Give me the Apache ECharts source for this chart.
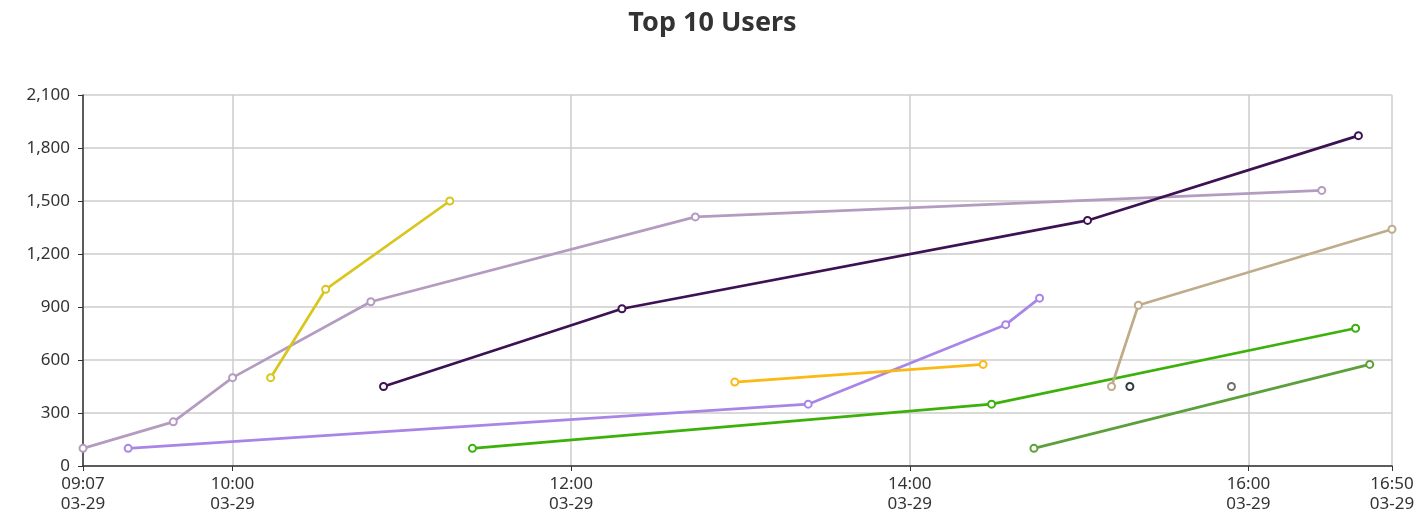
<!DOCTYPE html>
<html>
<head>
<meta charset="utf-8">
<script src="https://cdn.jsdelivr.net/npm/echarts@6/dist/echarts.min.js"></script>
<style>
html,body{margin:0;padding:0;background:#fff;}
#chart{width:1425px;height:515px;}
</style>
</head>
<body>
<div id="chart"></div>
<script>
const day = '2024-03-29';
const axisStart = '09:07:00';
const axisEnd = '16:50:54';
const yTicks = [0, 300, 600, 900, 1200, 1500, 1800, 2100];

const user1Times = ['09:07:00', '09:39:00', '10:00:00', '10:49:00', '12:44:00', '16:26:00'];
const user1Values = [100, 250, 500, 930, 1410, 1560];
const user2Times = ['10:13:30', '10:33:00', '11:17:00'];
const user2Values = [500, 1000, 1500];
const user3Times = ['10:53:30', '12:18:00', '15:03:00', '16:39:00'];
const user3Values = [450, 890, 1390, 1870];
const user4Times = ['09:23:00', '13:24:00', '14:34:00', '14:46:00'];
const user4Values = [100, 350, 800, 950];
const user5Times = ['12:58:00', '14:26:00'];
const user5Values = [475, 575];
const user6Times = ['11:25:00', '14:29:00', '16:38:00'];
const user6Values = [100, 350, 780];
const user7Times = ['15:11:30', '15:21:00', '16:50:54'];
const user7Values = [450, 910, 1340];
const user8Times = ['15:18:00'];
const user8Values = [450];
const user9Times = ['15:54:00'];
const user9Values = [450];
const user10Times = ['14:44:00', '16:43:00'];
const user10Values = [100, 575];

const seriesColors = ['#b49bc0', '#d9c61c', '#3d1253', '#a985e8', '#fcb813', '#3cb10c', '#bfac8b', '#2d3a40', '#727169', '#5da03b'];

const users = [
  [user1Times, user1Values], [user2Times, user2Values], [user3Times, user3Values],
  [user4Times, user4Values], [user5Times, user5Values], [user6Times, user6Values],
  [user7Times, user7Values], [user8Times, user8Values], [user9Times, user9Values],
  [user10Times, user10Values]
];

function ts(hms) { return new Date(day + 'T' + hms).getTime(); }
function pad(n) { return (n < 10 ? '0' : '') + n; }

const series = users.map(function (u, i) {
  return {
    name: 'User ' + (i + 1),
    type: 'line',
    data: u[0].map(function (t, j) { return [ts(t), u[1][j]]; }),
    symbol: 'emptyCircle',
    symbolSize: 7,
    lineStyle: { width: 2.7, color: seriesColors[i] },
    itemStyle: { color: seriesColors[i], borderWidth: 1.5 },
    emphasis: { disabled: true }
  };
});

const chart = echarts.init(document.getElementById('chart'));
chart.setOption({
  animation: false,
  color: seriesColors,
  title: {
    text: 'Top 10 Users',
    left: 'center',
    top: 5,
    textStyle: { fontSize: 27, fontWeight: 'bold', color: '#333', fontFamily: 'Noto Sans' }
  },
  grid: { left: 83, right: 33, top: 95, bottom: 49, containLabel: false },
  xAxis: {
    type: 'time',
    min: ts(axisStart),
    max: ts(axisEnd),
    splitNumber: 3,
    axisLine: { show: true, lineStyle: { color: '#333', width: 1.5 } },
    axisTick: { show: true, lineStyle: { color: '#333' } },
    splitLine: { show: true, lineStyle: { color: '#ccc', width: 1.5 } },
    axisLabel: {
      color: '#333',
      fontSize: 17,
      fontFamily: 'Noto Sans',
      lineHeight: 20,
      margin: 8,
      showMinLabel: true,
      showMaxLabel: true,
      hideOverlap: false,
      formatter: function (v) {
        const d = new Date(v);
        return pad(d.getHours()) + ':' + pad(d.getMinutes()) + '\n' + pad(d.getMonth() + 1) + '-' + pad(d.getDate());
      }
    }
  },
  yAxis: {
    type: 'value',
    min: yTicks[0],
    max: yTicks[yTicks.length - 1],
    interval: yTicks[1] - yTicks[0],
    axisLine: { show: true, lineStyle: { color: '#333', width: 1.5 } },
    axisTick: { show: true, lineStyle: { color: '#333' } },
    splitLine: { show: true, lineStyle: { color: '#ccc', width: 1.5 } },
    axisLabel: { color: '#333', fontSize: 17, fontFamily: 'Noto Sans', margin: 13 }
  },
  series: series
});
</script>
</body>
</html>
